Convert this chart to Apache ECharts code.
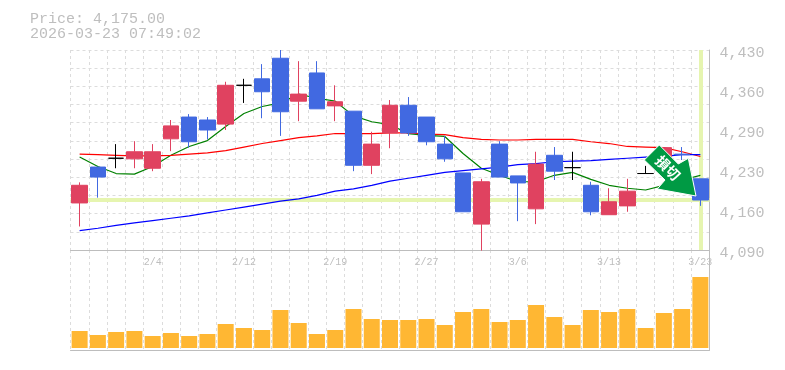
<!DOCTYPE html>
<html>
<head>
<meta charset="utf-8">
<style>
  html, body { margin: 0; padding: 0; background: #fff; }
  #chart { width: 785px; height: 370px; }
</style>
<script src="https://cdn.jsdelivr.net/npm/echarts@6/dist/echarts.min.js"></script>
</head>
<body>
<div id="chart"></div>
<script>
const dates = ['1/29','1/30','2/2','2/3','2/4','2/5','2/6','2/9','2/10','2/12','2/13','2/16','2/17','2/18','2/19','2/20','2/24','2/25','2/26','2/27','3/2','3/3','3/4','3/5','3/6','3/9','3/10','3/11','3/12','3/13','3/16','3/17','3/18','3/19','3/23']
const opens = [4170,4231,4246,4245,4229,4279,4316,4311,4304,4370,4381,4416,4343,4391,4335,4326,4234,4289,4336,4316,4270,4221,4134,4270,4216,4160,4251,4230,4200,4150,4165,4220,4226,4253,4211]
const closes = [4200,4214,4246,4257,4257,4301,4274,4294,4370,4370,4359,4325,4355,4330,4342,4234,4270,4336,4289,4274,4245,4155,4206,4214,4204,4236,4224,4230,4155,4172,4190,4220,4264,4252,4175]
const lows = [4130,4179,4229,4229,4224,4258,4264,4278,4294,4340,4314,4284,4309,4330,4309,4224,4219,4263,4284,4268,4240,4155,4089,4214,4139,4134,4209,4209,4149,4150,4155,4220,4226,4243,4165]
const highs = [4205,4231,4270,4275,4270,4311,4321,4316,4376,4381,4406,4430,4411,4411,4370,4326,4291,4345,4350,4316,4284,4221,4211,4275,4216,4257,4265,4257,4206,4195,4211,4233,4265,4265,4211]
const maShort = [4248,4232,4220,4219,4232,4251,4266,4276,4300,4322,4334,4340,4355,4348,4343,4318,4308,4303,4288,4285,4283,4254,4229,4217,4206,4206,4217,4222,4210,4200,4195,4192,4200,4209,4217]
const maMid = [4253,4252,4251,4250,4250,4251,4253,4255,4259,4265,4271,4276,4281,4284,4288,4288,4288,4289,4289,4287,4286,4281,4278,4277,4277,4278,4278,4278,4274,4271,4266,4265,4264,4257,4249]
const maLong = [4123,4127,4132,4136,4140,4144,4148,4153,4158,4163,4168,4173,4177,4183,4190,4194,4200,4207,4212,4217,4222,4225,4228,4231,4235,4237,4240,4241,4242,4244,4246,4248,4249,4252,4252]
const volumes = [17,13,16,17,12,15,12,14,24,20,18,38,25,14,18,39,29,28,28,29,23,36,39,26,28,43,31,23,38,36,39,20,35,39,71]
const priceTicks = [4090,4160,4230,4290,4360,4430]
const lastPrice = 4175

const gridGrey = '#dcdcdc'
const frameGrey = '#bdbdbd'
const labelGrey = '#bebebe'
const mono = '"Liberation Mono", monospace'

const candles = dates.map((_, i) => [opens[i], closes[i], lows[i], highs[i]])

function maLine(name, data, color) {
  return {
    name,
    type: 'line',
    data,
    z: 2,
    symbol: 'none',
    silent: true,
    lineStyle: { color, width: 1.2 }
  }
}

const chart = echarts.init(document.getElementById('chart'), null, { renderer: 'canvas' })
chart.setOption({
  animation: false,
  backgroundColor: '#fff',
  title: {
    text: 'Price: 4,175.00\n2026-03-23 07:49:02',
    left: 30,
    top: 12,
    padding: 0,
    textStyle: { fontFamily: mono, fontSize: 15, fontWeight: 'normal', color: labelGrey, lineHeight: 15 }
  },
  grid: [
    { left: 70.5, right: 75.5, top: 50, height: 200, show: false },
    { left: 70.5, right: 75.5, top: 250, height: 100, show: false },
    // price labels sit a few px below the plot, so they get their own grid
    { left: 70.5, right: 75.5, top: 53, height: 200, show: false }
  ],
  xAxis: [
    {
      type: 'category',
      data: dates,
      gridIndex: 0,
      boundaryGap: true,
      axisLine: { show: false },
      axisTick: { show: false },
      axisLabel: { show: false },
      splitLine: { show: true, interval: 0, lineStyle: { color: gridGrey, type: [3, 3] } }
    },
    {
      type: 'category',
      data: dates,
      gridIndex: 1,
      boundaryGap: true,
      position: 'top',
      axisLine: { show: true, onZero: false, lineStyle: { color: frameGrey, width: 1 } },
      axisTick: { show: false },
      axisLabel: {
        inside: true,
        interval: (i) => i % 5 === 4,
        margin: 7,
        fontFamily: mono,
        fontSize: 10,
        color: labelGrey,
        hideOverlap: false
      },
      splitLine: { show: true, interval: 0, lineStyle: { color: gridGrey, type: [3, 3] } }
    },
    {
      type: 'category',
      data: dates,
      gridIndex: 1,
      position: 'bottom',
      axisLine: { show: true, onZero: false, lineStyle: { color: frameGrey, width: 1 } },
      axisTick: { show: false },
      axisLabel: { show: false },
      splitLine: { show: false }
    },
    {
      type: 'category',
      data: dates,
      gridIndex: 2,
      show: false
    }
  ],
  yAxis: [
    {
      type: 'value',
      gridIndex: 0,
      position: 'right',
      min: 4090,
      max: 4430,
      interval: 340 / 11,
      axisLine: { show: true, lineStyle: { color: frameGrey, width: 1 } },
      axisTick: { show: false },
      axisLabel: { show: false },
      splitLine: { show: true, lineStyle: { color: gridGrey, type: [3, 3] } }
    },
    {
      type: 'value',
      gridIndex: 1,
      position: 'right',
      min: -2,
      max: 98,
      axisLine: { show: true, lineStyle: { color: frameGrey, width: 1 } },
      axisTick: { show: false },
      axisLabel: { show: false },
      splitLine: { show: false }
    },
    {
      type: 'value',
      gridIndex: 2,
      position: 'right',
      min: 0,
      max: 5,
      interval: 1,
      axisLine: { show: false },
      axisTick: { show: false },
      splitLine: { show: false },
      axisLabel: {
        margin: 10,
        fontFamily: mono,
        fontSize: 15,
        color: labelGrey,
        formatter: (v) => priceTicks[v].toLocaleString('en-US')
      }
    }
  ],
  series: [
    maLine('short', maShort, '#008000'),
    maLine('mid', maMid, '#ff0000'),
    maLine('long', maLong, '#0000ff'),
    {
      name: 'price',
      type: 'candlestick',
      data: candles,
      z: 3,
      barWidth: 16,
      silent: true,
      itemStyle: {
        color: '#e04260',
        color0: '#4169e1',
        borderColor: '#e04260',
        borderColor0: '#4169e1',
        borderColorDoji: '#000',
        borderWidth: 1
      },
      markLine: {
        silent: true,
        symbol: 'none',
        z: 1,
        label: { show: false },
        lineStyle: { color: '#e6f5b0', width: 4, type: 'solid' },
        data: [{ yAxis: lastPrice }, { xAxis: dates.length - 1 }]
      }
    },
    {
      name: 'volume',
      type: 'bar',
      xAxisIndex: 1,
      yAxisIndex: 1,
      data: volumes,
      barWidth: 16,
      silent: true,
      itemStyle: { color: '#ffb733' }
    }
  ],
  graphic: [
    {
      type: 'polygon',
      z: 100,
      shape: { points: [[659.3,145],[678.3,164],[688.3,158.3],[696,196],[657.3,189],[665,180],[644.3,160]] },
      style: { fill: '#009a44', stroke: '#fff', lineWidth: 1 }
    },
    {
      type: 'text',
      z: 101,
      x: 668,
      y: 168,
      rotation: -Math.PI / 4,
      style: {
        text: '損切',
        fill: '#fff',
        font: 'bold 14px "Noto Sans CJK JP"',
        align: 'center',
        verticalAlign: 'middle'
      }
    }
  ]
})
</script>
</body>
</html>
